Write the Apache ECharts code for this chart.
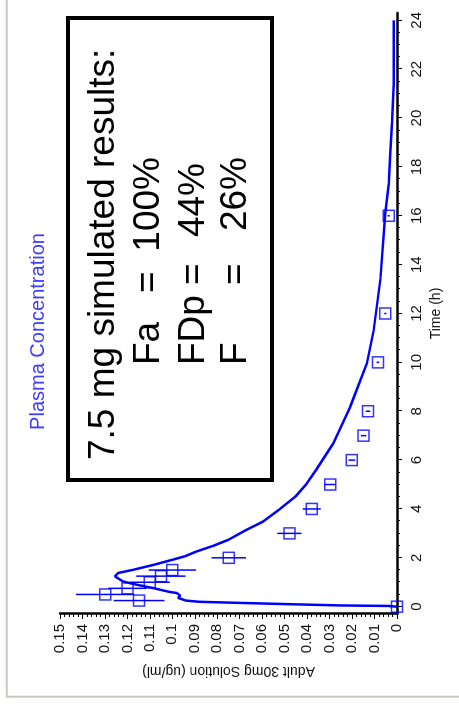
<!DOCTYPE html>
<html>
<head>
<meta charset="utf-8">
<script src="https://cdn.jsdelivr.net/npm/echarts@6/dist/echarts.min.js"></script>
<style>
html,body{margin:0;padding:0;background:#fff;overflow:hidden;width:459px;height:706px;}
#chart{position:absolute;left:0;top:0;width:706px;height:459px;transform-origin:0 0;transform:translate(0,706px) rotate(-90deg);background:#fff;}
</style>
</head>
<body>
<div id="chart"></div>
<script>
// Simulated plasma concentration (time h, concentration ug/ml)
const simTime = [0, 0.03, 0.05, 0.1, 0.15, 0.2, 0.25, 0.36, 0.45, 0.56, 0.6, 0.76, 0.9, 1.03, 1.24, 1.38, 1.51, 1.72, 1.92, 2.06, 2.26, 2.49, 2.74, 3.15, 3.49, 3.97, 4.51, 5.0, 5.6, 6.69, 8.19, 9.96, 11.3, 13.4, 15.4, 16.1, 17.3, 18.55, 19.8, 21.4, 24];
const simConc = [0, 0.004, 0.025, 0.047, 0.068, 0.088, 0.094, 0.0974, 0.0965, 0.098, 0.101, 0.1085, 0.116, 0.1219, 0.1256, 0.1241, 0.1174, 0.108, 0.1, 0.0945, 0.0892, 0.0818, 0.075, 0.0669, 0.0595, 0.0525, 0.0452, 0.0405, 0.036, 0.0283, 0.0208, 0.0134, 0.0104, 0.0074, 0.0058, 0.0052, 0.0037, 0.003, 0.0022, 0.0015, 0.0015];
// Observed data (Adult 30mg Solution)
const obsTime = [0, 0.25, 0.5, 0.75, 1, 1.25, 1.5, 2, 3, 4, 5, 6, 7, 8, 10, 12, 16];
const obsConc = [0, 0.1148, 0.1299, 0.12, 0.11, 0.1051, 0.1, 0.0749, 0.0479, 0.0379, 0.0297, 0.0201, 0.0149, 0.0129, 0.0085, 0.0052, 0.0037];
const obsErr  = [0, 0.0113, 0.013, 0.0085, 0.0088, 0.011, 0.0105, 0.0077, 0.0054, 0.004, 0.0025, 0.0015, 0.0012, 0.001, 0.0006, 0.0005, 0.0005];
// Tick labels
const timeMajorTicks = [0, 2, 4, 6, 8, 10, 12, 14, 16, 18, 20, 22, 24];
const timeMinorTicks = [0, 0.5, 1, 1.5, 2, 2.5, 3, 3.5, 4, 4.5, 5, 5.5, 6, 6.5, 7, 7.5, 8, 8.5, 9, 9.5, 10, 10.5, 11, 11.5, 12, 12.5, 13, 13.5, 14, 14.5, 15, 15.5, 16, 16.5, 17, 17.5, 18, 18.5, 19, 19.5, 20, 20.5, 21, 21.5, 22, 22.5, 23, 23.5, 24];
const titleText = 'Plasma Concentration';
const xName = 'Time (h)';
const yName = 'Adult 30mg Solution (ug/ml)';
const boxLines = ['7.5 mg simulated results:', 'Fa', '=', '100%', 'FDp', '=', '44%', 'F', '=', '26%'];

const FONT = "'Liberation Sans', Arial, sans-serif";
const BLUE = '#0000ff';
const chart = echarts.init(document.getElementById('chart'), null, {renderer: 'canvas', width: 706, height: 459});

const simData = simTime.map((t, i) => [t, simConc[i]]);
const obsData = obsTime.map((t, i) => [t, obsConc[i]]);
const errData = obsTime.map((t, i) => [t, obsConc[i] - obsErr[i], obsConc[i] + obsErr[i]]);

function mid(baseline, fs) { return baseline - 0.3465 * fs; }

chart.setOption({
  animation: false,
  backgroundColor: '#fff',
  grid: {left: 92, right: 13, top: 60, bottom: 62, containLabel: false, outerBoundsMode: 'none'},
  xAxis: [{
    type: 'value', min: -0.3, max: 24.3, position: 'bottom',
    name: xName, nameLocation: 'middle', nameGap: 31,
    nameTextStyle: {fontFamily: FONT, fontSize: 14, color: '#111'},
    axisLine: {show: true, onZero: false, lineStyle: {color: '#000', width: 2.5}},
    axisTick: {show: true, customValues: timeMajorTicks, length: 5, lineStyle: {color: '#000', width: 1}},
    axisLabel: {show: true, customValues: timeMajorTicks, margin: 12, fontFamily: FONT, fontSize: 15, color: '#111'},
    splitLine: {show: false}
  }, {
    type: 'value', min: -0.3, max: 24.3, position: 'bottom',
    axisLine: {show: false},
    axisTick: {show: true, customValues: timeMinorTicks, length: 3, lineStyle: {color: '#000', width: 1}},
    axisLabel: {show: false},
    splitLine: {show: false}
  }],
  yAxis: {
    type: 'value', min: 0, max: 0.15, interval: 0.01, position: 'left',
    name: yName, nameLocation: 'middle', nameGap: 44, nameRotate: 90,
    nameTextStyle: {fontFamily: FONT, fontSize: 14, color: '#111'},
    axisLine: {show: true, onZero: false, lineStyle: {color: '#000', width: 2.5}},
    axisTick: {show: true, length: 5, lineStyle: {color: '#000', width: 1}},
    minorTick: {show: true, splitNumber: 5, length: 3, lineStyle: {color: '#000', width: 1}},
    axisLabel: {margin: 10, fontFamily: FONT, fontSize: 15, color: '#111',
      formatter: v => String(+v.toFixed(3))},
    splitLine: {show: false}
  },
  series: [{
    type: 'line', data: simData, showSymbol: false, symbol: 'none',
    lineStyle: {color: BLUE, width: 2.5}, z: 3
  }, {
    type: 'custom', data: errData, encode: {x: 0, y: [1, 2]}, z: 4,
    renderItem: function (params, api) {
      const t = api.value(0);
      const p1 = api.coord([t, api.value(1)]);
      const p2 = api.coord([t, api.value(2)]);
      return {type: 'line', shape: {x1: p1[0], y1: p1[1], x2: p2[0], y2: p2[1]},
        style: {stroke: BLUE, lineWidth: 1.5}};
    }
  }, {
    type: 'scatter', data: obsData, symbol: 'rect', symbolSize: 11, z: 5,
    itemStyle: {color: 'rgba(0,0,0,0)', borderColor: BLUE, borderWidth: 1.5}
  }],
  graphic: [
    {type: 'rect', shape: {x: 9.3, y: 6.7, width: 740, height: 480}, z: 0,
      style: {fill: 'none', stroke: '#cbc7bf', lineWidth: 2}},
    {type: 'text', x: 374.5, y: mid(45, 20), z: 10,
      style: {text: titleText, font: '20px ' + FONT, fill: '#3c3cff', align: 'center', verticalAlign: 'middle'}},
    {type: 'rect', shape: {x: 226, y: 68, width: 462, height: 204}, z: 20,
      style: {fill: '#fff', stroke: '#000', lineWidth: 4}},
    {type: 'text', x: 246, y: mid(117, 37), z: 21,
      style: {text: boxLines[0], font: '37px ' + FONT, fill: '#000', align: 'left', verticalAlign: 'middle'}},
    {type: 'text', x: 341, y: mid(162, 37), z: 21,
      style: {text: boxLines[1], font: '37px ' + FONT, fill: '#000', align: 'left', verticalAlign: 'middle'}},
    {type: 'text', x: 413, y: mid(162, 37), z: 21,
      style: {text: boxLines[2], font: '37px ' + FONT, fill: '#000', align: 'left', verticalAlign: 'middle'}},
    {type: 'text', x: 549, y: mid(162, 37), z: 21,
      style: {text: boxLines[3], font: '37px ' + FONT, fill: '#000', align: 'right', verticalAlign: 'middle'}},
    {type: 'text', x: 341, y: mid(207, 37), z: 21,
      style: {text: boxLines[4], font: '37px ' + FONT, fill: '#000', align: 'left', verticalAlign: 'middle'}},
    {type: 'text', x: 421, y: mid(207, 37), z: 21,
      style: {text: boxLines[5], font: '37px ' + FONT, fill: '#000', align: 'left', verticalAlign: 'middle'}},
    {type: 'text', x: 543, y: mid(207, 37), z: 21,
      style: {text: boxLines[6], font: '37px ' + FONT, fill: '#000', align: 'right', verticalAlign: 'middle'}},
    {type: 'text', x: 341, y: mid(249, 37), z: 21,
      style: {text: boxLines[7], font: '37px ' + FONT, fill: '#000', align: 'left', verticalAlign: 'middle'}},
    {type: 'text', x: 421, y: mid(249, 37), z: 21,
      style: {text: boxLines[8], font: '37px ' + FONT, fill: '#000', align: 'left', verticalAlign: 'middle'}},
    {type: 'text', x: 549, y: mid(249, 37), z: 21,
      style: {text: boxLines[9], font: '37px ' + FONT, fill: '#000', align: 'right', verticalAlign: 'middle'}}
  ]
});
</script>
</body>
</html>
